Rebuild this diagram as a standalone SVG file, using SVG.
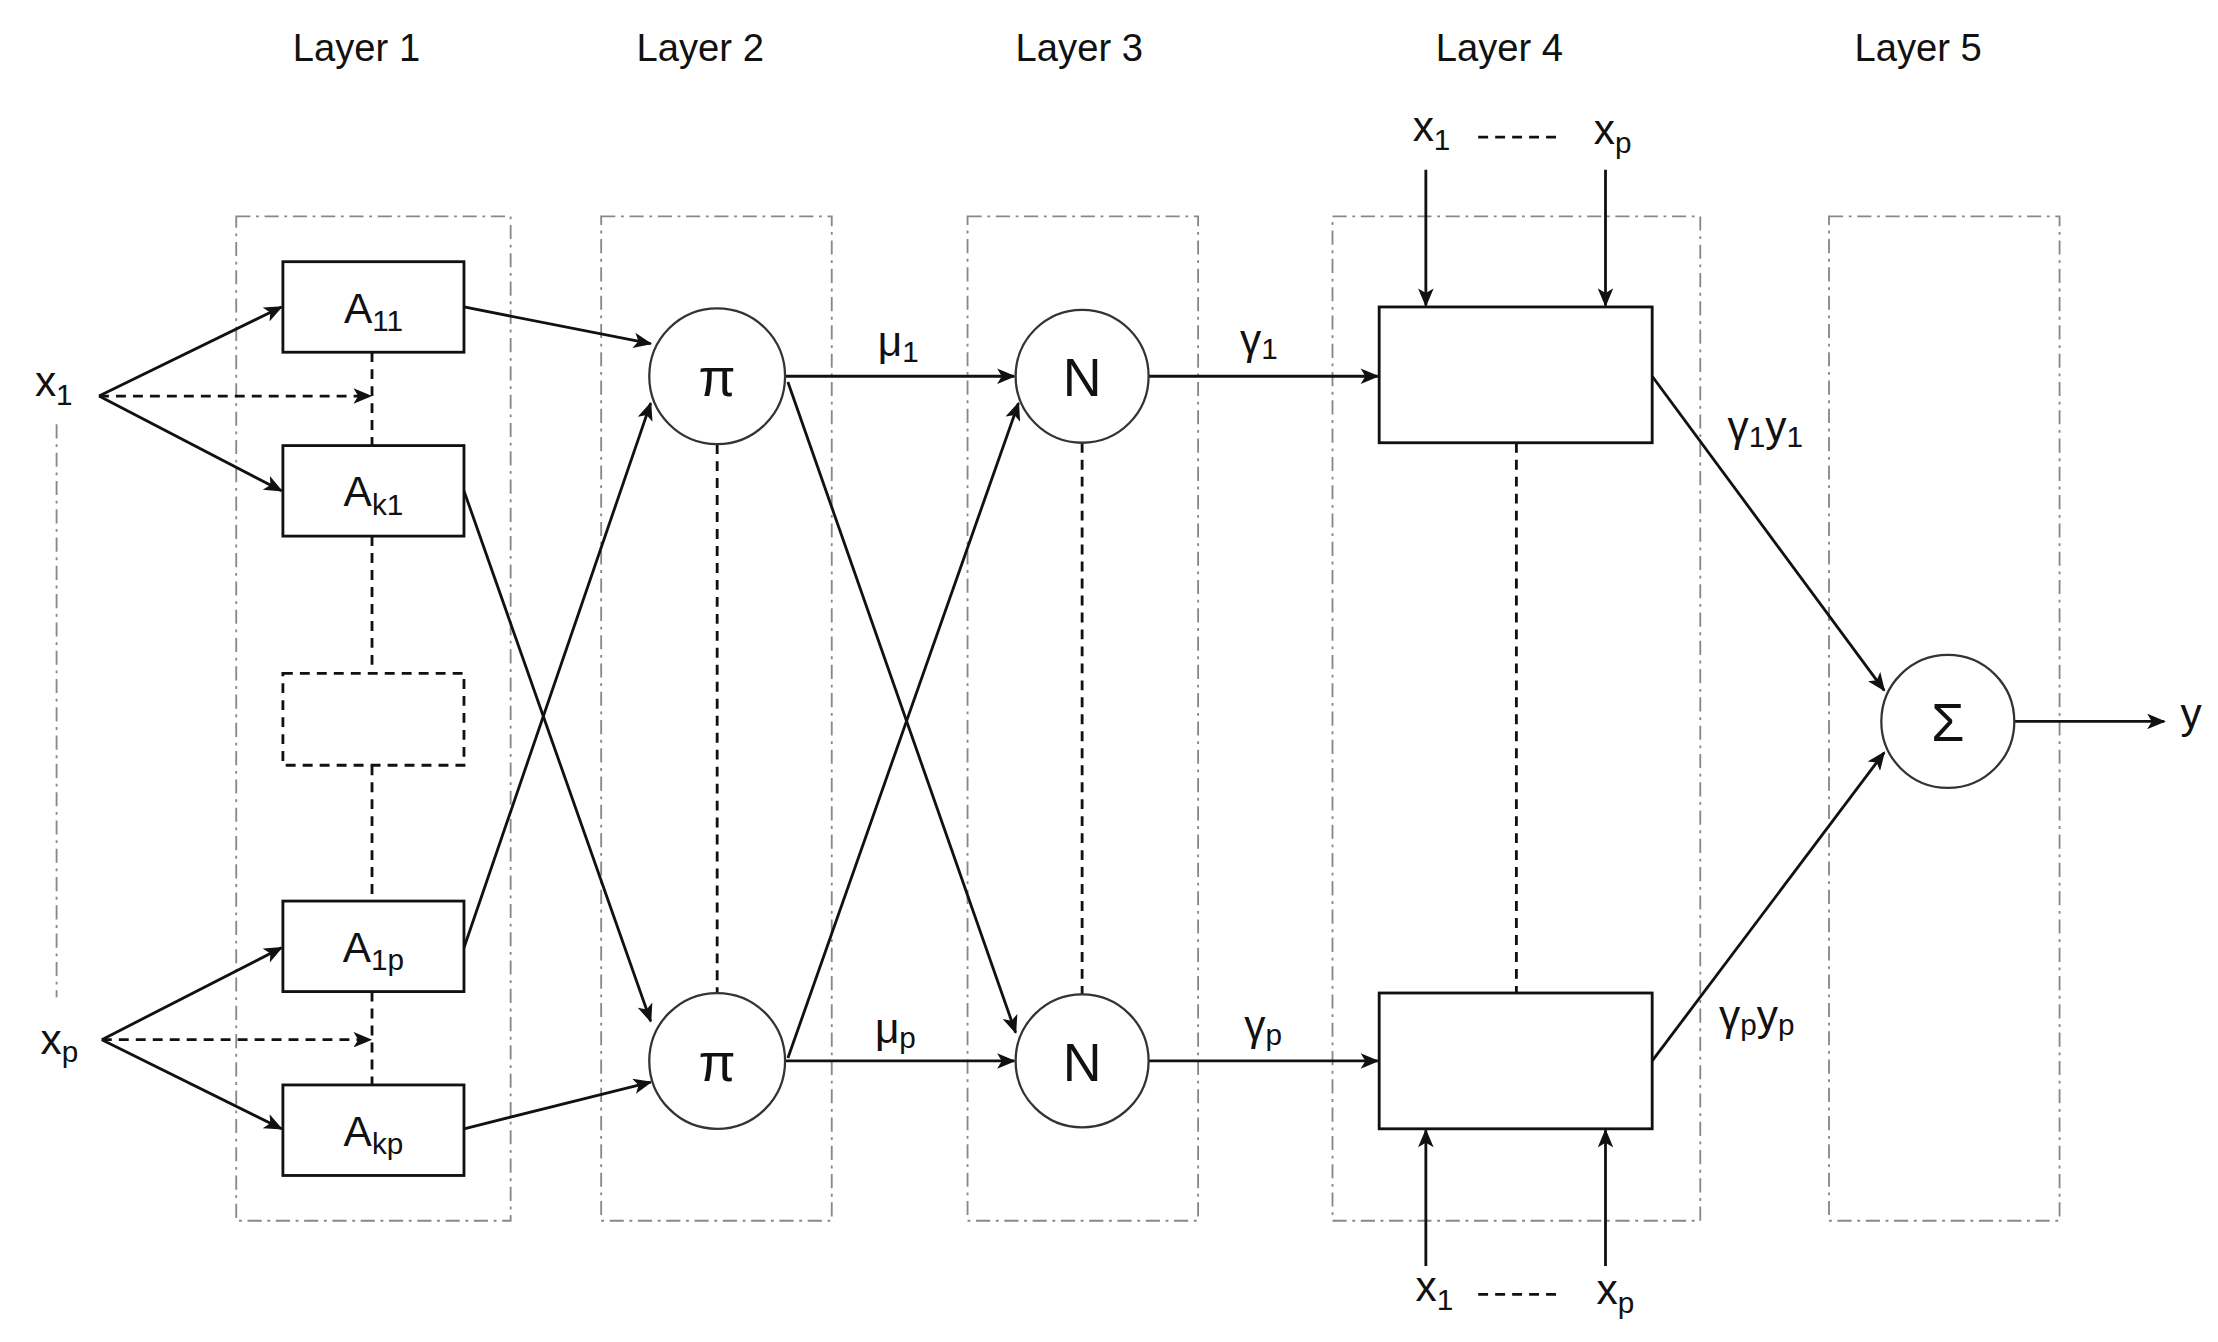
<svg xmlns="http://www.w3.org/2000/svg" width="2218" height="1342" viewBox="0 0 2218 1342">
<defs>
<marker id="ah" viewBox="0 0 12 10" refX="11" refY="5" markerWidth="14" markerHeight="11" markerUnits="userSpaceOnUse" orient="auto"><path d="M0,0 L12,5 L0,10 L3,5 Z" fill="#111"/></marker>
</defs>
<style>
.lay{fill:none;stroke:#888;stroke-width:1.3;stroke-dasharray:10 4 2 4}
.box{fill:#fff;stroke:#111;stroke-width:2}
.circ{fill:#fff;stroke:#333;stroke-width:1.6}
.ln{stroke:#111;stroke-width:2;fill:none}
.dl{stroke:#111;stroke-width:2;stroke-dasharray:7 5;fill:none}
.arr{marker-end:url(#ah)}
text{font-family:"Liberation Sans",Arial,sans-serif;fill:#111}
.t{font-size:27px;text-anchor:middle}
.l{font-size:30px;text-anchor:middle}
.g{font-size:38px;text-anchor:middle}
.s{font-size:21px}
</style>
<rect width="2218" height="1342" fill="#fff"/>
<g transform="scale(1.41454)">
<g id="titles">
<text class="t" x="252" y="43">Layer 1</text>
<text class="t" x="495" y="43">Layer 2</text>
<text class="t" x="763" y="43">Layer 3</text>
<text class="t" x="1060" y="43">Layer 4</text>
<text class="t" x="1356" y="43">Layer 5</text>
</g>
<g id="layers">
<rect class="lay" x="167" y="153" width="194" height="710"/>
<rect class="lay" x="425" y="153" width="163" height="710"/>
<rect class="lay" x="684" y="153" width="163" height="710"/>
<rect class="lay" x="942" y="153" width="260" height="710"/>
<rect class="lay" x="1293" y="153" width="163" height="710"/>
<line class="lay" x1="40" y1="300" x2="40" y2="705"/>
</g>
<g id="connectors">
<line class="dl" x1="263" y1="249" x2="263" y2="315"/>
<line class="dl" x1="263" y1="379" x2="263" y2="476"/>
<line class="dl" x1="263" y1="541" x2="263" y2="637"/>
<line class="dl" x1="263" y1="701" x2="263" y2="767"/>
<line class="dl" x1="507" y1="314" x2="507" y2="702"/>
<line class="dl" x1="765" y1="313" x2="765" y2="703"/>
<line class="dl" x1="1072" y1="313" x2="1072" y2="702"/>
<line class="ln arr" x1="70" y1="280" x2="199" y2="217"/>
<line class="dl arr" x1="70" y1="280" x2="262" y2="280"/>
<line class="ln arr" x1="70" y1="280" x2="199" y2="347"/>
<line class="ln arr" x1="72" y1="735" x2="199" y2="670"/>
<line class="dl arr" x1="72" y1="735" x2="262" y2="735"/>
<line class="ln arr" x1="72" y1="735" x2="199" y2="798"/>
<line class="ln arr" x1="328" y1="217" x2="460" y2="243"/>
<line class="ln arr" x1="328" y1="347" x2="460" y2="722"/>
<line class="ln arr" x1="328" y1="670" x2="460" y2="285"/>
<line class="ln arr" x1="328" y1="798" x2="460" y2="765"/>
<line class="ln arr" x1="555" y1="266" x2="717" y2="266"/>
<line class="ln arr" x1="557" y1="270" x2="718" y2="730"/>
<line class="ln arr" x1="557" y1="748" x2="720" y2="285"/>
<line class="ln arr" x1="555" y1="750" x2="717" y2="750"/>
<line class="ln arr" x1="812" y1="266" x2="974" y2="266"/>
<line class="ln arr" x1="812" y1="750" x2="974" y2="750"/>
<line class="ln arr" x1="1168" y1="266" x2="1332" y2="488"/>
<line class="ln arr" x1="1168" y1="750" x2="1332" y2="532"/>
<line class="ln arr" x1="1424" y1="510" x2="1530" y2="510"/>
<line class="ln arr" x1="1008" y1="120" x2="1008" y2="216"/>
<line class="ln arr" x1="1135" y1="120" x2="1135" y2="216"/>
<line class="ln arr" x1="1008" y1="895" x2="1008" y2="799"/>
<line class="ln arr" x1="1135" y1="895" x2="1135" y2="799"/>
<line class="dl" x1="1045" y1="97" x2="1105" y2="97" stroke="#888"/>
<line class="dl" x1="1045" y1="915" x2="1105" y2="915" stroke="#888"/>
</g>
<g id="A11"><rect class="box" x="200" y="185" width="128" height="64"/><text class="l" x="264" y="228">A<tspan class="s" dy="6">11</tspan></text></g>
<g id="Ak1"><rect class="box" x="200" y="315" width="128" height="64"/><text class="l" x="264" y="358">A<tspan class="s" dy="6">k1</tspan></text></g>
<g id="Adash"><rect class="box" x="200" y="476" width="128" height="65" stroke-dasharray="7 5"/></g>
<g id="A1p"><rect class="box" x="200" y="637" width="128" height="64"/><text class="l" x="264" y="680">A<tspan class="s" dy="6">1p</tspan></text></g>
<g id="Akp"><rect class="box" x="200" y="767" width="128" height="64"/><text class="l" x="264" y="810">A<tspan class="s" dy="6">kp</tspan></text></g>
<g id="pi1"><circle class="circ" cx="507" cy="266" r="48"/><text class="g" x="507" y="280">π</text></g>
<g id="pi2"><circle class="circ" cx="507" cy="750" r="48"/><text class="g" x="507" y="764">π</text></g>
<g id="N1"><circle class="circ" cx="765" cy="266" r="47"/><text class="g" x="765" y="280">N</text></g>
<g id="N2"><circle class="circ" cx="765" cy="750" r="47"/><text class="g" x="765" y="764">N</text></g>
<g id="R1"><rect class="box" x="975" y="217" width="193" height="96"/></g>
<g id="R2"><rect class="box" x="975" y="702" width="193" height="96"/></g>
<g id="Sigma"><circle class="circ" cx="1377" cy="510" r="47"/><text class="g" x="1377" y="524">Σ</text></g>
<g id="labels">
<text class="l" x="38" y="280">x<tspan class="s" dy="6">1</tspan></text>
<text class="l" x="42" y="745">x<tspan class="s" dy="6">p</tspan></text>
<text class="l" x="635" y="252">μ<tspan class="s" dy="4">1</tspan></text>
<text class="l" x="633" y="737">μ<tspan class="s" dy="4">p</tspan></text>
<text class="l" x="890" y="250">γ<tspan class="s" dy="4">1</tspan></text>
<text class="l" x="893" y="735">γ<tspan class="s" dy="4">p</tspan></text>
<text class="l" x="1248" y="312">γ<tspan class="s" dy="4">1</tspan><tspan dy="-4">y</tspan><tspan class="s" dy="4">1</tspan></text>
<text class="l" x="1242" y="728">γ<tspan class="s" dy="4">p</tspan><tspan dy="-4">y</tspan><tspan class="s" dy="4">p</tspan></text>
<text class="l" x="1549" y="515">y</text>
<text class="l" x="1012" y="100">x<tspan class="s" dy="6">1</tspan></text>
<text class="l" x="1140" y="102">x<tspan class="s" dy="6">p</tspan></text>
<text class="l" x="1014" y="920">x<tspan class="s" dy="6">1</tspan></text>
<text class="l" x="1142" y="922">x<tspan class="s" dy="6">p</tspan></text>
</g>
</g>
</svg>
